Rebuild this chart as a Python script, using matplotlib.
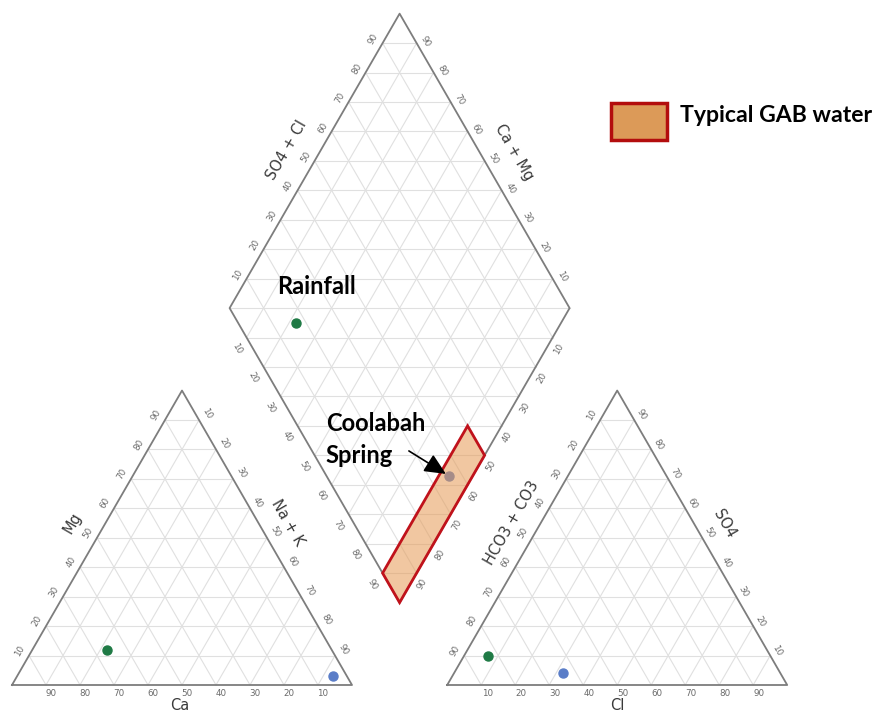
import numpy as np
import matplotlib
matplotlib.use("Agg")
import matplotlib.pyplot as plt
from matplotlib.patches import Polygon, Rectangle

# ---- sample chemistry (percent of meq) ----
samples = ["Rainfall", "Coolabah Spring"]
ca = [66, 4]
mg = [12, 3]
na_k = [22, 93]
hco3_co3 = [83, 64]
so4 = [10, 4]
cl = [7, 32]
sample_colors = ["#1f7a45", "#5a7dc8"]

# typical GAB water envelope in the diamond (Ca+Mg range, SO4+Cl range)
gab_camg = [0, 10]
gab_so4cl = [0, 50]

ticks = [10, 20, 30, 40, 50, 60, 70, 80, 90]

# ---- geometry ----
S = np.sqrt(3) / 2
GAP = 28.0
X_AN = 100 + GAP              # left corner of the anion triangle
BOT = np.array([100 + GAP / 2, GAP * S])   # bottom vertex of the diamond
PX = 3.4                      # pixels per data unit


def cat_xy(c, m, n):
    return np.array([n + m / 2.0, m * S])


def an_xy(h, s, c):
    return np.array([X_AN + c + s / 2.0, s * S])


def dia_xy(camg, so4cl):
    return BOT + camg * np.array([-0.5, S]) + so4cl * np.array([0.5, S])


fig = plt.figure(figsize=(8.76, 7.13), dpi=100)
ax = fig.add_axes([0, 0, 1, 1])
ax.set_xlim(-12 / PX, (876 - 12) / PX)
ax.set_ylim((685 - 713) / PX, 685 / PX)
ax.set_aspect("equal")
ax.axis("off")

GRID = dict(color="#e0e0e0", lw=0.8, zorder=1)
EDGE = dict(color="#7d7d7d", lw=1.3, zorder=3)
TICK = dict(fontsize=6.3, color="#6a6a6a", ha="center", va="center", zorder=4)
LAB = dict(fontsize=10.5, color="#3a3a3a", ha="center", va="center", zorder=4)


def seg(p, q, **kw):
    ax.plot([p[0], q[0]], [p[1], q[1]], **kw)


def off(p, dx, dy):
    # shift a data point by a screen offset in pixels (dy downwards)
    return p[0] + dx / PX, p[1] - dy / PX


# ---- triangle grids ----
for k in ticks:
    seg(cat_xy(100 - k, k, 0), cat_xy(0, k, 100 - k), **GRID)
    seg(cat_xy(100 - k, 0, k), cat_xy(0, 100 - k, k), **GRID)
    seg(cat_xy(k, 0, 100 - k), cat_xy(k, 100 - k, 0), **GRID)
    seg(an_xy(100 - k, k, 0), an_xy(0, k, 100 - k), **GRID)
    seg(an_xy(100 - k, 0, k), an_xy(0, 100 - k, k), **GRID)
    seg(an_xy(k, 0, 100 - k), an_xy(k, 100 - k, 0), **GRID)

# ---- diamond grid ----
for k in ticks:
    seg(dia_xy(k, 0), dia_xy(k, 100), **GRID)
    seg(dia_xy(0, k), dia_xy(100, k), **GRID)
for m in range(10, 200, 10):
    if m <= 100:
        seg(dia_xy(m, 0), dia_xy(0, m), **GRID)
    else:
        seg(dia_xy(100, m - 100), dia_xy(m - 100, 100), **GRID)

# ---- outlines ----
for tri in ([cat_xy(100, 0, 0), cat_xy(0, 0, 100), cat_xy(0, 100, 0)],
            [an_xy(100, 0, 0), an_xy(0, 0, 100), an_xy(0, 100, 0)],
            [dia_xy(0, 0), dia_xy(100, 0), dia_xy(100, 100), dia_xy(0, 100)]):
    pts = np.array(tri + [tri[0]])
    ax.plot(pts[:, 0], pts[:, 1], **EDGE)

# ---- tick labels ----
for k in ticks:
    lbl = str(k)
    # cation triangle
    ax.text(*off(cat_xy(k, 0, 100 - k), 5, 9), lbl, rotation=0, **TICK)
    ax.text(*off(cat_xy(100 - k, k, 0), -9, -5), lbl, rotation=60, **TICK)
    ax.text(*off(cat_xy(0, 100 - k, k), 8, -6), lbl, rotation=-60, **TICK)
    # anion triangle
    ax.text(*off(an_xy(100 - k, 0, k), 6, 9), lbl, rotation=0, **TICK)
    ax.text(*off(an_xy(k, 100 - k, 0), -9, -5), lbl, rotation=60, **TICK)
    ax.text(*off(an_xy(0, k, 100 - k), 7, -5), lbl, rotation=-60, **TICK)
    # diamond
    ax.text(*off(dia_xy(100, k), -9, -4), lbl, rotation=60, **TICK)
    ax.text(*off(dia_xy(k, 100), 9, -2), lbl, rotation=-60, **TICK)
    ax.text(*off(dia_xy(100 - k, 0), -10, 11), lbl, rotation=-60, **TICK)
    ax.text(*off(dia_xy(0, 100 - k), 6, 11), lbl, rotation=60, **TICK)

# ---- axis titles ----
ax.text(*off(cat_xy(50, 50, 0), -24, -15), "Mg", rotation=60, **LAB)
ax.text(*off(cat_xy(0, 50, 50), 21, -15), "Na + K", rotation=-60, **LAB)
ax.text(*off(cat_xy(50, 0, 50), -2, 20), "Ca", **LAB)
ax.text(*off(an_xy(50, 50, 0), -21, -15), "HCO3 + CO3", rotation=60, **LAB)
ax.text(*off(an_xy(0, 50, 50), 22, -14), "SO4", rotation=-60, **LAB)
ax.text(*off(an_xy(50, 0, 50), 0, 21), "Cl", **LAB)
ax.text(*off(dia_xy(100, 50), -28, -11), "SO4 + Cl", rotation=60, **LAB)
ax.text(*off(dia_xy(50, 100), 29, -9), "Ca + Mg", rotation=-60, **LAB)

# ---- sample points ----
for i in range(len(samples)):
    p = cat_xy(ca[i], mg[i], na_k[i])
    q = an_xy(hco3_co3[i], so4[i], cl[i])
    d = dia_xy(ca[i] + mg[i], so4[i] + cl[i])
    for pt in (p, q, d):
        ax.plot(pt[0], pt[1], "o", ms=6.5, color=sample_colors[i],
                mec=sample_colors[i], zorder=5)

# ---- typical GAB water envelope ----
env = [dia_xy(gab_camg[0], gab_so4cl[0]), dia_xy(gab_camg[1], gab_so4cl[0]),
       dia_xy(gab_camg[1], gab_so4cl[1]), dia_xy(gab_camg[0], gab_so4cl[1])]
ax.add_patch(Polygon(env, closed=True, facecolor="#e69a55", alpha=0.55,
                     edgecolor="none", zorder=6))
ax.add_patch(Polygon(env, closed=True, facecolor="none",
                     edgecolor="#c0121b", lw=2.0, zorder=7))

# ---- annotations ----
BOLD = dict(family=["Lato", "DejaVu Sans"], fontweight="bold", fontsize=17,
            color="black", zorder=8)
rain_d = dia_xy(ca[0] + mg[0], so4[0] + cl[0])
ax.text(*off(rain_d, -19, -36), "Rainfall", ha="left", va="center", **BOLD)

cool_d = dia_xy(ca[1] + mg[1], so4[1] + cl[1])
ax.text(*off(cool_d, -123, -52), "Coolabah", ha="left", va="center", **BOLD)
ax.text(*off(cool_d, -123, -20), "Spring", ha="left", va="center", **BOLD)
ax.annotate("", xy=off(cool_d, -3, -2), xytext=off(cool_d, -40, -25),
            arrowprops=dict(arrowstyle="-|>,head_length=1.3,head_width=0.6",
                            color="black", lw=1.2, shrinkA=0, shrinkB=0),
            zorder=8)

# ---- legend ----
lx0, ly0 = (611 - 12) / PX, (685 - 140) / PX
ax.add_patch(Rectangle((lx0, ly0), 56 / PX, 37 / PX, facecolor="#dc9a58",
                       edgecolor="#b30d0d", lw=2.5, zorder=8))
legend_style = dict(BOLD, fontsize=16.6)
ax.text((680 - 12) / PX, (685 - 116) / PX, "Typical GAB water",
        ha="left", va="center", **legend_style)

fig.savefig("out.png", dpi=100)
